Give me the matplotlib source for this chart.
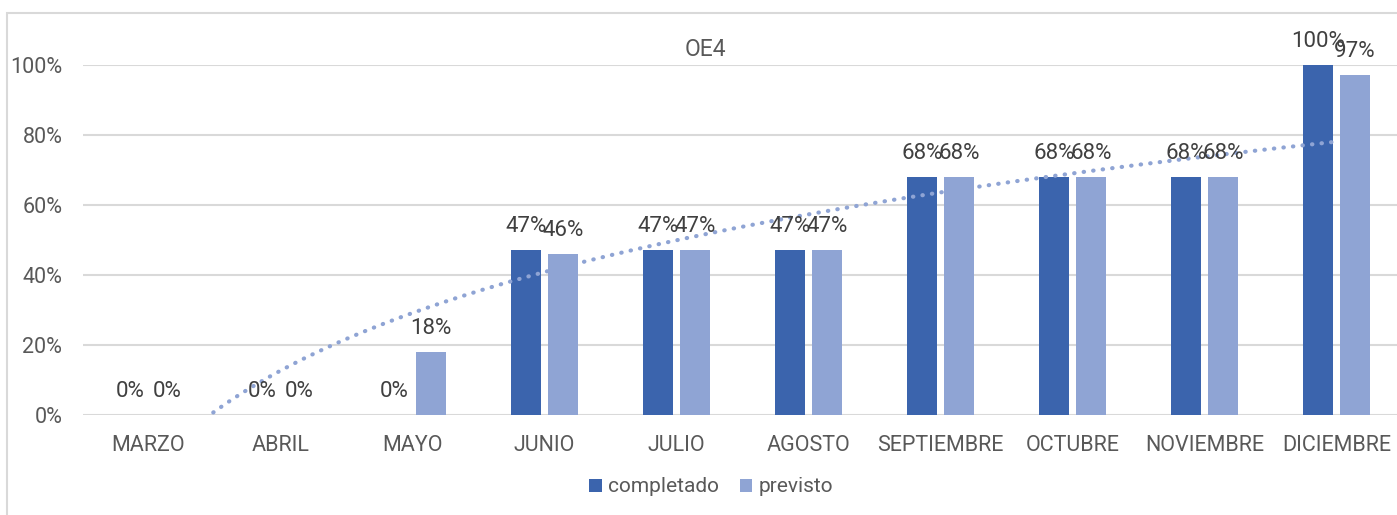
import numpy as np
import matplotlib
matplotlib.use("Agg")
import matplotlib.pyplot as plt
from matplotlib.patches import Rectangle

months = ["MARZO", "ABRIL", "MAYO", "JUNIO", "JULIO", "AGOSTO",
          "SEPTIEMBRE", "OCTUBRE", "NOVIEMBRE", "DICIEMBRE"]
completado = [0.00, 0.00, 0.00, 0.47, 0.47, 0.47, 0.68, 0.68, 0.68, 1.00]
previsto = [0.00, 0.00, 0.18, 0.46, 0.47, 0.47, 0.68, 0.68, 0.68, 0.97]
ytick_vals = [0, 0.2, 0.4, 0.6, 0.8, 1.0]
ytick_labels = ["0%", "20%", "40%", "60%", "80%", "100%"]
title = "OE4"

c_dark = "#3B64AD"
c_light = "#8FA4D4"
txt = "#595959"
grid_c = "#D9D9D9"

plt.rcParams['font.family'] = ['Roboto', 'DejaVu Sans']

W, H = 1397, 515
fig = plt.figure(figsize=(W / 100, H / 100), dpi=100)

# chart border
fig.patches.append(Rectangle((7 / W, -0.1), 2, (H - 13) / H + 0.1,
                             transform=fig.transFigure, fill=False,
                             edgecolor=grid_c, linewidth=1.5))

ax = fig.add_axes([82.5 / W, (H - 415) / H, 1320 / W, 350 / H])
x = np.arange(len(months))
bw = 0.227
off = 0.14
b1 = ax.bar(x - off, completado, bw, color=c_dark, label="completado", zorder=3)
b2 = ax.bar(x + off, previsto, bw, color=c_light, label="previsto", zorder=3)

for xi, v in zip(x - off, completado):
    ax.annotate(f"{v*100:.0f}%", (xi, v), xytext=(0, 17), textcoords="offset points",
                ha="center", va="center", fontsize=16, color="#404040", zorder=5,
                annotation_clip=False)
for xi, v in zip(x + off, previsto):
    ax.annotate(f"{v*100:.0f}%", (xi, v), xytext=(0, 17), textcoords="offset points",
                ha="center", va="center", fontsize=16, color="#404040", zorder=5,
                annotation_clip=False)

# logarithmic trendline on previsto
xs = np.arange(1, len(months) + 1)
a, b = np.polyfit(np.log(xs), np.array(previsto), 1)
xf = np.linspace(1, len(months), 300)
yf = a * np.log(xf) + b
ax.plot(xf - 1, yf, linestyle=(0, (0.1, 2.2)), dash_capstyle="round",
        color=c_light, linewidth=3, zorder=4)

ax.set_xlim(-0.5, len(months) - 0.5)
ax.set_ylim(0, 1.0)
ax.set_yticks(ytick_vals)
ax.set_yticklabels(ytick_labels)
ax.set_xticks(x)
ax.set_xticklabels(months)
ax.tick_params(axis="y", length=0, pad=14.5, labelsize=15.5, labelcolor=txt)
ax.tick_params(axis="x", length=0, pad=14.5, labelsize=15.5, labelcolor=txt)
for s in ax.spines.values():
    s.set_visible(False)
ax.grid(axis="y", color=grid_c, linewidth=1.5, zorder=0)
ax.set_axisbelow(True)

fig.text(705 / W, (H - 50) / H, title, ha="center", va="center",
         fontsize=16.5, color=txt)

ax.legend(handles=[b1, b2], loc="center", bbox_to_anchor=(711 / W, (H - 487) / H),
          bbox_transform=fig.transFigure, ncol=2, frameon=False, fontsize=15,
          labelcolor=txt, handlelength=0.6, handleheight=0.6, handletextpad=0.3,
          columnspacing=1.0)

fig.savefig("out.png", dpi=100)
